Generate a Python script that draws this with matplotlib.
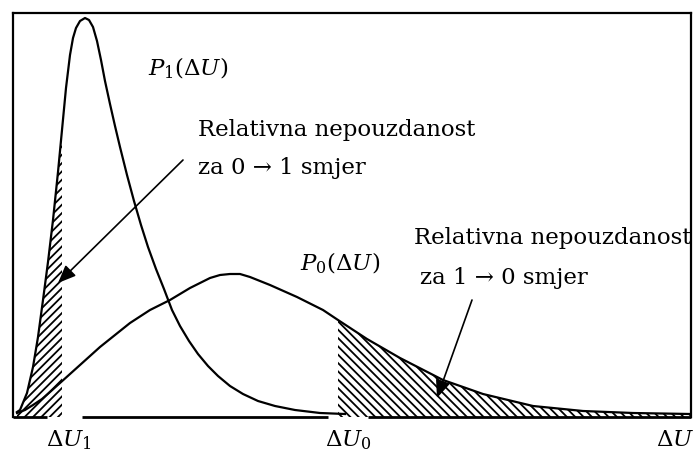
import numpy as np
import matplotlib.pyplot as plt

plt.rcParams['mathtext.fontset'] = 'dejavuserif'
plt.rcParams['hatch.linewidth'] = 1.3

# Napon (relativne jedinice) i gustoce vjerojatnosti ocitane sa slike
du_p1 = [4, 7, 14, 20, 25, 30, 35, 40, 45, 49, 53, 57, 60, 63, 67, 72, 76, 80, 84,
         88, 92, 97, 102, 107, 114, 121, 128, 135, 143, 151, 159, 167, 176, 185,
         195, 205, 217, 230, 245, 262, 282, 307, 332]
p1 = [5, 7, 24, 50, 80, 117, 155, 197, 245, 287, 329, 362, 379, 389, 396, 399, 397,
      390, 376, 357, 336, 313, 291, 270, 242, 216, 192, 170, 148, 128, 107, 91, 76,
      63, 51, 41, 31, 23, 16, 11, 7, 4, 3]

du_p0 = [4, 12, 20, 29, 37, 47, 67, 87, 102, 117, 137, 157, 177, 197, 207, 217,
         227, 237, 257, 284, 310, 325, 354, 387, 430, 470, 520, 570, 620, 677]
p0 = [4, 7, 12, 18, 25, 34, 52, 70, 82, 94, 107, 117, 129, 139, 142, 143,
      143, 140, 132, 120, 107, 97, 78, 59, 37, 23, 11, 6, 4, 3]

du1 = 49   # granica za 0 -> 1
du0 = 325  # granica za 1 -> 0

du_p1 = np.array(du_p1)
p1 = np.array(p1)
du_p0 = np.array(du_p0)
p0 = np.array(p0)

fig = plt.figure(figsize=(6.96, 4.55), dpi=100)
ax = fig.add_axes([13/696, 38/455, 678/696, 404/455])
ax.set_xlim(0, 678)
ax.set_ylim(0, 404)

ax.plot(du_p1, p1, color='black', lw=1.6, solid_joinstyle='round')
ax.plot(du_p0, p0, color='black', lw=1.6, solid_joinstyle='round')

# srafirana podrucja
m1 = du_p1 <= du1
ax.fill_between(du_p1[m1], p1[m1], 0, facecolor='none', edgecolor='black',
                hatch='////', linewidth=0)
m0 = du_p0 >= du0
ax.fill_between(du_p0[m0], p0[m0], 0, facecolor='none', edgecolor='black',
                hatch='\\\\\\\\', linewidth=0)

# okvir, donja linija s prekidima
for s in ['left', 'top', 'right']:
    ax.spines[s].set_linewidth(1.6)
ax.spines['bottom'].set_visible(False)
for a, b in [(0, 34), (69, 315), (355, 678)]:
    ax.plot([a, b], [0, 0], color='black', lw=2.0, clip_on=False,
            solid_capstyle='butt')
ax.set_xticks([])
ax.set_yticks([])

fam = ['DejaVu Serif', 'DejaVu Sans']
fs = 16.5

ax.text(135, 349, r'$P_1(\Delta U)$', fontsize=fs, family=fam, va='center')
ax.text(185, 287, 'Relativna nepouzdanost', fontsize=fs, family=fam, va='center')
ax.text(185, 249, 'za 0 → 1 smjer', fontsize=fs, family=fam, va='center')
ax.text(287, 154, r'$P_0(\Delta U)$', fontsize=fs, family=fam, va='center')
ax.text(401, 179, 'Relativna nepouzdanost', fontsize=fs, family=fam, va='center')
ax.text(407, 139, 'za 1 → 0 smjer', fontsize=fs, family=fam, va='center')

ax.text(56, -23, r'$\Delta U_1$', fontsize=fs, family=fam, ha='center', va='center')
ax.text(335, -23, r'$\Delta U_0$', fontsize=fs, family=fam, ha='center', va='center')
ax.text(681, -23, r'$\Delta U$', fontsize=fs, family=fam, ha='right', va='center')

arrow = dict(arrowstyle='-|>,head_length=0.6,head_width=0.25', color='black',
             lw=1.2, mutation_scale=18, shrinkA=0, shrinkB=0)
ax.annotate('', xy=(45, 134), xytext=(170, 257), arrowprops=arrow)
ax.annotate('', xy=(424, 19), xytext=(459, 117), arrowprops=arrow)

plt.savefig('out.png', dpi=100)
